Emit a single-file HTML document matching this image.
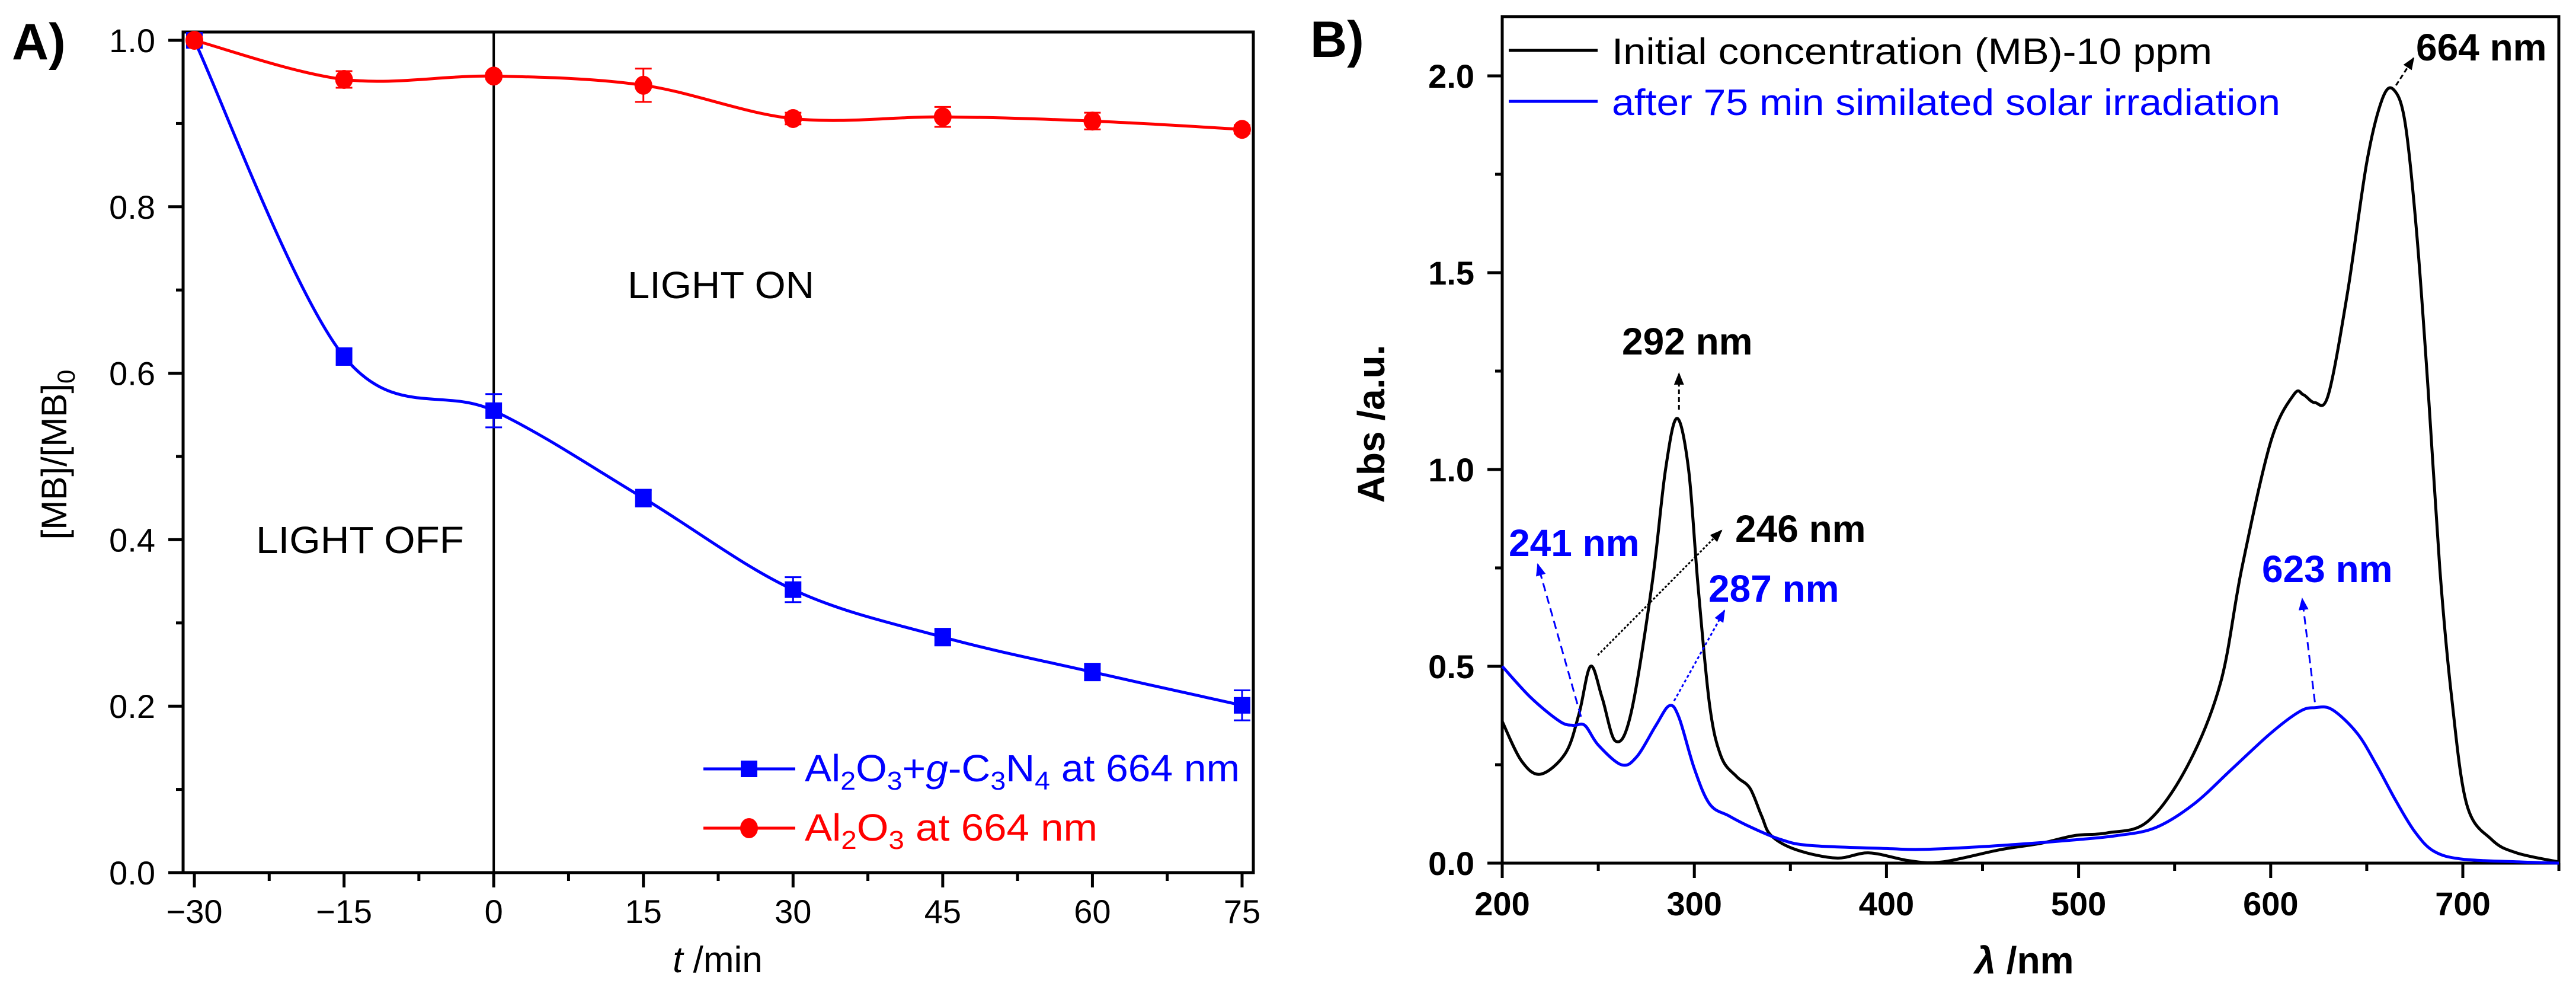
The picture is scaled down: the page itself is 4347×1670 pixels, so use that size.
<!DOCTYPE html>
<html><head><meta charset="utf-8"><style>
body{margin:0;background:#fff}
svg{display:block;font-family:"Liberation Sans",sans-serif}
</style></head><body>
<svg id="fig" width="4347" height="1670" viewBox="0 0 4347 1670" xmlns="http://www.w3.org/2000/svg">
<rect width="4347" height="1670" fill="#fff"/>
<g id="pa"></g>
<g id="pb"></g>
</svg>
<script>
// Panel A data
const timeCats = [-30,-15,0,15,30,45,60,75];
const blueVals = [1.0,0.62,0.555,0.45,0.34,0.283,0.241,0.201];
const blueErr  = [0.004,0.01,0.02,0.01,0.015,0.01,0.01,0.018];
const redVals  = [1.0,0.953,0.957,0.946,0.906,0.908,0.903,0.893];
const redErr   = [0.004,0.01,0.004,0.02,0.007,0.012,0.01,0.005];
const aXTicks = [-30,-15,0,15,30,45,60,75];
const aYTicks = [0.0,0.2,0.4,0.6,0.8,1.0];
// Panel B data
const wlBlack = [200,210,220,233,240,246,252,259,267,278,285,291,297,302,308,314,322,329,335,340,353,374,391,412,429,459,480,498,515,536,557,574,585,600,612,617,623,630,640,650,658,664,670,676,682,688,694,702,715,728,750];
const absBlack= [0.36,0.26,0.226,0.28,0.38,0.50,0.42,0.31,0.38,0.71,1.0,1.13,1.0,0.7,0.4,0.27,0.22,0.19,0.12,0.07,0.034,0.013,0.026,0.006,0.003,0.034,0.05,0.07,0.077,0.106,0.25,0.46,0.75,1.07,1.19,1.19,1.17,1.19,1.45,1.78,1.94,1.965,1.88,1.6,1.2,0.75,0.43,0.15,0.06,0.026,0.003];
const wlBlue  = [200,215,230,237,243,250,262,270,280,287,292,300,308,318,330,345,360,400,420,460,500,520,540,560,580,600,615,623,632,645,655,665,675,685,700,730,750];
const absBlue = [0.50,0.42,0.36,0.35,0.35,0.30,0.25,0.27,0.35,0.40,0.37,0.24,0.15,0.12,0.09,0.06,0.045,0.037,0.035,0.045,0.06,0.07,0.09,0.15,0.24,0.33,0.385,0.395,0.39,0.33,0.25,0.16,0.08,0.03,0.01,0.003,0.0];
const bXTicks = [200,300,400,500,600,700];
const bYTicks = [0.0,0.5,1.0,1.5,2.0];

const NS="http://www.w3.org/2000/svg";
function mk(tag,attrs,parent){const e=document.createElementNS(NS,tag);for(const k in attrs)e.setAttribute(k,attrs[k]);parent.appendChild(e);return e;}
function spline(pts){let d="M"+pts[0][0]+","+pts[0][1];for(let i=0;i<pts.length-1;i++){const p0=pts[Math.max(0,i-1)],p1=pts[i],p2=pts[i+1],p3=pts[Math.min(pts.length-1,i+2)];const c1x=p1[0]+(p2[0]-p0[0])/6,c1y=p1[1]+(p2[1]-p0[1])/6,c2x=p2[0]-(p3[0]-p1[0])/6,c2y=p2[1]-(p3[1]-p1[1])/6;d+=" C"+c1x.toFixed(1)+","+c1y.toFixed(1)+" "+c2x.toFixed(1)+","+c2y.toFixed(1)+" "+p2[0].toFixed(1)+","+p2[1].toFixed(1);}return d;}

// ---------- Panel A ----------
const A=document.getElementById('pa');
const ax=v=>328+(v+30)*(2096-328)/105;
const ay=v=>1472-v*(1472-68);
let t;
t=mk('text',{x:20,y:100,'font-size':86,'font-weight':'bold'},A);t.textContent='A)';

let e=mk('line',{x1:ax(0),y1:54,x2:ax(0),y2:1472,stroke:'#000','stroke-width':4},A);

for(let v=-30;v<=75;v+=7.5){const maj=aXTicks.includes(v);const l=mk('line',{x1:ax(v),y1:1472,x2:ax(v),y2:1472+(maj?25:14),stroke:'#000','stroke-width':5},A);}
aXTicks.forEach(v=>{const tx=mk('text',{x:ax(v),y:1557,'font-size':56,'text-anchor':'middle'},A);tx.textContent=(v<0?'\u2212':'')+Math.abs(v);});
for(let i=0;i<=10;i++){const v=i/10;const maj=i%2==0;const l=mk('line',{x1:309,y1:ay(v),x2:309-(maj?25:12),y2:ay(v),stroke:'#000','stroke-width':5},A);}
aYTicks.forEach(v=>{const tx=mk('text',{x:262,y:ay(v)+20,'font-size':56,'text-anchor':'end'},A);tx.textContent=v.toFixed(1);});
e=mk('rect',{x:309,y:54,width:2115-309,height:1472-54,fill:'none',stroke:'#000','stroke-width':5},A);

t=mk('text',{x:1211,y:1640,'font-size':62,'text-anchor':'middle'},A);
t.innerHTML='<tspan font-style="italic">t</tspan> /min';

t=mk('text',{x:0,y:0,'font-size':60,'text-anchor':'middle',transform:'translate(112,767) rotate(-90)'},A);
t.innerHTML='[MB]/[MB]<tspan font-size="42" dy="14">0</tspan>';

t=mk('text',{x:1059,y:503,'font-size':64,textLength:315,lengthAdjust:'spacingAndGlyphs'},A);t.textContent='LIGHT ON';

t=mk('text',{x:432,y:933,'font-size':64,textLength:351,lengthAdjust:'spacingAndGlyphs'},A);t.textContent='LIGHT OFF';

function seriesA(vals,errs,color,shape,name){
  const g=mk('g',{},A);
  const pts=timeCats.map((c,i)=>[ax(c),ay(vals[i])]);
  const p=mk('path',{d:spline(pts),fill:'none',stroke:color,'stroke-width':5},g);
  
  timeCats.forEach((c,i)=>{
    const x=ax(c),y1=ay(vals[i]+errs[i]),y2=ay(vals[i]-errs[i]);
    const eb=mk('path',{d:`M${x},${y1}V${y2}M${x-14},${y1}H${x+14}M${x-14},${y2}H${x+14}`,stroke:color,'stroke-width':3,fill:'none'},g);
    
    let m;
    if(shape==='sq'){m=mk('rect',{x:x-14,y:ay(vals[i])-14,width:28,height:28,fill:color},g);}
    else{m=mk('ellipse',{cx:x,cy:ay(vals[i]),rx:15,ry:16,fill:color},g);}
    
  });
}
seriesA(blueVals,blueErr,'#0000ff','sq','series-al2o3-gc3n4');
seriesA(redVals,redErr,'#ff0000','ci','series-al2o3');
const lg=mk('g',{},A);
e=mk('line',{x1:1187,y1:1297,x2:1342,y2:1297,stroke:'#0000ff','stroke-width':5},lg);
e=mk('rect',{x:1250,y:1283,width:28,height:28,fill:'#0000ff'},lg);
t=mk('text',{x:1358,y:1318,'font-size':64,fill:'#0000ff',textLength:734,lengthAdjust:'spacingAndGlyphs'},lg);
t.innerHTML='Al<tspan font-size="44" dy="14">2</tspan><tspan dy="-14">O</tspan><tspan font-size="44" dy="14">3</tspan><tspan dy="-14">+</tspan><tspan font-style="italic">g</tspan>-C<tspan font-size="44" dy="14">3</tspan><tspan dy="-14">N</tspan><tspan font-size="44" dy="14">4</tspan><tspan dy="-14"> at 664 nm</tspan>';

e=mk('line',{x1:1187,y1:1397,x2:1342,y2:1397,stroke:'#ff0000','stroke-width':5},lg);
e=mk('ellipse',{cx:1264,cy:1397,rx:15,ry:17,fill:'#ff0000'},lg);
t=mk('text',{x:1358,y:1418,'font-size':64,fill:'#ff0000',textLength:494,lengthAdjust:'spacingAndGlyphs'},lg);
t.innerHTML='Al<tspan font-size="44" dy="14">2</tspan><tspan dy="-14">O</tspan><tspan font-size="44" dy="14">3</tspan><tspan dy="-14"> at 664 nm</tspan>';


// ---------- Panel B ----------
const B=document.getElementById('pb');
const bx=v=>2535+(v-200)*(4156-2535)/500;
const by=v=>1456-v*(1456-128)/2;
t=mk('text',{x:2211,y:96,'font-size':86,'font-weight':'bold'},B);t.textContent='B)';

for(let v=200;v<=750;v+=50){const maj=bXTicks.includes(v);const l=mk('line',{x1:bx(v),y1:1456,x2:bx(v),y2:1456+(maj?25:13),stroke:'#000','stroke-width':5},B);}
bXTicks.forEach(v=>{const tx=mk('text',{x:bx(v),y:1544,'font-size':56,'font-weight':'bold','text-anchor':'middle'},B);tx.textContent=v;});
for(let v=0;v<=2.0001;v+=0.25){const maj=Math.abs(v*2-Math.round(v*2))<1e-6;const l=mk('line',{x1:2535,y1:by(v),x2:2535-(maj?25:12),y2:by(v),stroke:'#000','stroke-width':5},B);}
bYTicks.forEach(v=>{const tx=mk('text',{x:2488,y:by(v)+20,'font-size':56,'font-weight':'bold','text-anchor':'end'},B);tx.textContent=v.toFixed(1);});
e=mk('rect',{x:2535,y:28,width:4318-2535,height:1456-28,fill:'none',stroke:'#000','stroke-width':5},B);

t=mk('text',{x:3416,y:1642,'font-size':64,'font-weight':'bold','text-anchor':'middle'},B);
t.innerHTML='<tspan font-style="italic">λ</tspan> /nm';

t=mk('text',{x:0,y:0,'font-size':64,'font-weight':'bold','text-anchor':'middle',transform:'translate(2336,715) rotate(-90)'},B);
t.textContent='Abs /a.u.';

e=mk('path',{d:spline(wlBlack.map((w,i)=>[bx(w),by(absBlack[i])])),fill:'none',stroke:'#000','stroke-width':5},B);

e=mk('path',{d:spline(wlBlue.map((w,i)=>[bx(w),by(absBlue[i])])),fill:'none',stroke:'#0000ff','stroke-width':5},B);

e=mk('line',{x1:2546,y1:85,x2:2696,y2:85,stroke:'#000','stroke-width':5},B);
t=mk('text',{x:2720,y:108,'font-size':62,textLength:1013,lengthAdjust:'spacingAndGlyphs'},B);t.textContent='Initial concentration (MB)-10 ppm';

e=mk('line',{x1:2546,y1:171,x2:2696,y2:171,stroke:'#0000ff','stroke-width':5},B);
t=mk('text',{x:2720,y:194,'font-size':62,fill:'#0000ff',textLength:1128,lengthAdjust:'spacingAndGlyphs'},B);t.textContent='after 75 min similated solar irradiation';

const defs=mk('defs',{},B);
['k','b'].forEach(c=>{const m=mk('marker',{id:'ah'+c,viewBox:'0 0 10 10',refX:9,refY:5,markerWidth:7,markerHeight:7,orient:'auto',markerUnits:'strokeWidth'},defs);mk('path',{d:'M0,1L10,5L0,9z',fill:c==='k'?'#000':'#0000ff'},m);});
function arrow(x1,y1,x2,y2,col,dash,name){const a=mk('line',{x1,y1,x2,y2,stroke:col==='k'?'#000':'#0000ff','stroke-width':3,'stroke-dasharray':dash,'marker-end':'url(#ah'+col+')'},B);}
arrow(bx(664)+4,by(1.97)-4,4073,98,'k','8,5','arrow-664');
arrow(bx(292),by(1.14)-8,bx(292),630,'k','8,5','arrow-292');
arrow(bx(246)+12,by(0.51)-12,2905,895,'k','4,3','arrow-246');
arrow(bx(241),by(0.36)-8,2595,952,'b','14,8','arrow-241');
arrow(bx(287)+8,by(0.40)-8,2910,1030,'b','5,4','arrow-287');
arrow(bx(623),by(0.40)-6,3885,1010,'b','14,8','arrow-623');
function ann(x,y,txt,col,name){const a=mk('text',{x,y,'font-size':64,'font-weight':'bold',fill:col},B);a.textContent=txt;}
ann(4077,102,'664 nm','#000','label-664');
ann(2737,598,'292 nm','#000','label-292');
ann(2928,914,'246 nm','#000','label-246');
ann(2546,938,'241 nm','#0000ff','label-241');
ann(2883,1015,'287 nm','#0000ff','label-287');
ann(3817,982,'623 nm','#0000ff','label-623');
</script>
</body></html>
